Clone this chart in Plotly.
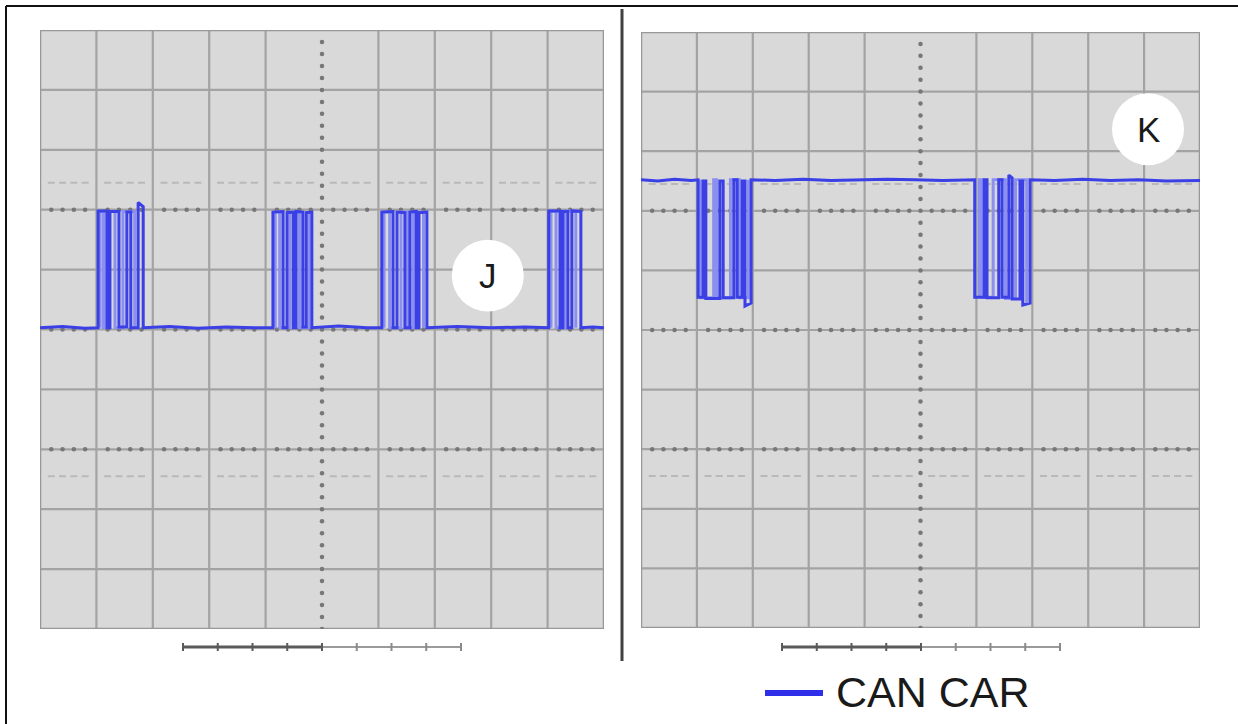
import plotly.graph_objects as go

W, H = 1238, 724

# ---------------- data (oscilloscope divisions) ----------------
# Panel J: CAN trace, time in divisions (0-10), voltage level in divisions (0-10)
j_time = [0.00, 0.40, 0.80, 1.03, 1.03, 1.19, 1.19, 1.24, 1.24, 1.40, 1.40, 1.54, 1.54, 1.61, 1.61,
          1.74, 1.74, 1.83, 1.83, 2.30, 2.80, 3.30, 3.80, 4.13, 4.13, 4.31, 4.31, 4.38, 4.38, 4.49,
          4.49, 4.54, 4.54, 4.66, 4.66, 4.72, 4.72, 4.82, 4.82, 5.30, 5.80, 6.06, 6.06, 6.26, 6.26,
          6.33, 6.33, 6.47, 6.47, 6.56, 6.56, 6.67, 6.67, 6.72, 6.72, 6.86, 6.86, 7.40, 8.00, 8.60,
          9.02, 9.02, 9.22, 9.22, 9.27, 9.27, 9.36, 9.36, 9.43, 9.43, 9.59, 9.59, 9.80, 10.00]
j_level = [5.03, 5.05, 5.02, 5.03, 6.98, 6.98, 5.03, 5.03, 6.97, 6.97, 5.04, 5.04, 6.96, 6.96, 5.03,
           5.03, 7.12, 7.05, 5.03, 5.05, 5.02, 5.04, 5.03, 5.03, 6.96, 6.97, 5.03, 5.03, 6.95, 6.96,
           5.03, 5.03, 6.97, 6.96, 5.04, 5.04, 6.95, 6.96, 5.03, 5.06, 5.03, 5.03, 6.96, 6.97, 5.03,
           5.03, 6.96, 6.95, 5.03, 5.03, 6.96, 6.97, 5.03, 5.03, 6.95, 6.96, 5.03, 5.05, 5.03, 5.04,
           5.03, 6.98, 6.98, 5.03, 5.03, 6.97, 6.97, 5.03, 5.03, 6.98, 6.97, 5.03, 5.04, 5.03]

# persistence (lighter) frames inside the J bursts
j_ghost_time = [1.06, 1.06, 1.12, 1.12, 1.15, 1.15, 1.33, 1.33, 1.47, 1.47, 1.68, 1.68, None,
                4.17, 4.17, 4.25, 4.25, 4.43, 4.43, 4.60, 4.60, 4.77, 4.77, None,
                6.10, 6.10, 6.20, 6.20, 6.40, 6.40, 6.52, 6.52, 6.62, 6.62, 6.80, 6.80, None,
                9.06, 9.06, 9.15, 9.15, 9.31, 9.31, 9.50, 9.50]
j_ghost_level = [5.03, 6.97, 6.97, 5.03, 5.03, 6.97, 6.97, 5.03, 5.03, 6.97, 6.97, 5.03, None,
                 5.03, 6.96, 6.96, 5.03, 5.03, 6.96, 6.96, 5.03, 5.03, 6.96, None,
                 5.03, 6.96, 6.96, 5.03, 5.03, 6.96, 6.96, 5.03, 5.03, 6.96, 6.96, 5.03, None,
                 5.03, 6.98, 6.98, 5.03, 5.03, 6.98, 6.98, 5.03]

# Panel K: CAN trace
k_time = [0.00, 0.30, 0.60, 0.90, 1.02, 1.02, 1.11, 1.11, 1.16, 1.16, 1.41, 1.41, 1.47, 1.47, 1.66,
          1.66, 1.72, 1.72, 1.81, 1.81, 1.86, 1.86, 1.97, 1.97, 2.40, 2.90, 3.40, 3.90, 4.40, 4.90,
          5.40, 5.97, 5.97, 6.14, 6.14, 6.19, 6.19, 6.40, 6.40, 6.46, 6.46, 6.58, 6.58, 6.64, 6.64,
          6.78, 6.78, 6.83, 6.83, 6.96, 6.96, 7.40, 7.90, 8.40, 8.90, 9.40, 10.00]
k_level = [7.52, 7.50, 7.53, 7.51, 7.52, 5.55, 5.55, 7.50, 7.50, 5.53, 5.53, 7.50, 7.50, 5.54, 5.54,
           7.52, 7.52, 5.55, 5.55, 7.50, 7.50, 5.40, 5.45, 7.52, 7.51, 7.53, 7.51, 7.52, 7.53, 7.52,
           7.51, 7.52, 5.55, 5.55, 7.52, 7.52, 5.54, 5.54, 7.52, 7.52, 5.55, 5.55, 7.60, 7.55, 5.52,
           5.52, 7.50, 7.50, 5.42, 5.45, 7.52, 7.51, 7.53, 7.51, 7.52, 7.50, 7.51]

k_ghost_time = [1.06, 1.06, 1.30, 1.30, 1.35, 1.35, 1.60, 1.60, 1.76, 1.76, 1.92, 1.92, None,
                6.05, 6.05, 6.10, 6.10, 6.30, 6.30, 6.52, 6.52, 6.70, 6.70, 6.90, 6.90]
k_ghost_level = [7.52, 5.54, 5.54, 7.52, 7.52, 5.54, 5.54, 7.52, 7.52, 5.54, 5.54, 7.52, None,
                 5.55, 7.52, 7.52, 5.55, 5.55, 7.52, 7.52, 5.53, 5.53, 7.52, 7.52, 5.45]

panel_labels = ["J", "K"]
legend_label = "CAN CAR"

# ---------------- styling ----------------
TRACE = "#3a3fe6"
GHOST = "#8a8ff0"
GRID = "#a3a3a3"
BG = "#d9d9d9"

def px_x(x):
    return x / W

def px_y(y):
    return 1 - y / H

fig = go.Figure()

shapes = []
annotations = []

panels = [
    dict(xa="x", ya="y"),
    dict(xa="x2", ya="y2"),
]

for p in panels:
    xr, yr = p["xa"], p["ya"]
    for i in range(1, 10):
        if i != 5:
            shapes.append(dict(type="line", xref=xr, yref=yr, x0=i, x1=i, y0=0, y1=10,
                               line=dict(color=GRID, width=2.2), layer="below"))
        shapes.append(dict(type="line", xref=xr, yref=yr, x0=0, x1=10, y0=i, y1=i,
                           line=dict(color=GRID, width=2.2), layer="below"))
    shapes.append(dict(type="rect", xref=xr, yref=yr, x0=0, x1=10, y0=0, y1=10,
                       line=dict(color="#989898", width=2.5), layer="below"))

# graticule dots
for xr, yr in (("x", "y"), ("x2", "y2")):
    dx, dy = [], []
    for yl in (3, 5, 7):
        for i in range(10):
            for k in (0.2, 0.4, 0.6, 0.8):
                dx.append(i + k); dy.append(yl)
    vx, vy = [], []
    for i in range(10):
        for k in (0.0, 0.2, 0.4, 0.6, 0.8):
            vx.append(5); vy.append(i + k)
    lx, ly = [], []
    for yl in (7.45, 2.55):
        for i in range(10):
            for k in (0.2, 0.4, 0.6, 0.8):
                lx.append(i + k); ly.append(yl)
    fig.add_trace(go.Scatter(x=lx, y=ly, mode="markers", xaxis=xr, yaxis=yr,
                             marker=dict(symbol="line-ew", size=5, line=dict(color="#b9b9b9", width=2)),
                             showlegend=False, hoverinfo="skip"))
    fig.add_trace(go.Scatter(x=dx + vx, y=dy + vy, mode="markers", xaxis=xr, yaxis=yr,
                             marker=dict(symbol="circle", size=4.5, color="#777777"),
                             showlegend=False, hoverinfo="skip"))

fig.add_trace(go.Scatter(x=j_ghost_time, y=j_ghost_level, mode="lines", xaxis="x", yaxis="y",
                         line=dict(color=GHOST, width=3), showlegend=False, hoverinfo="skip"))
fig.add_trace(go.Scatter(x=j_time, y=j_level, mode="lines", xaxis="x", yaxis="y", name=legend_label,
                         line=dict(color=TRACE, width=3), showlegend=False))
fig.add_trace(go.Scatter(x=k_ghost_time, y=k_ghost_level, mode="lines", xaxis="x2", yaxis="y2",
                         line=dict(color=GHOST, width=3), showlegend=False, hoverinfo="skip"))
fig.add_trace(go.Scatter(x=k_time, y=k_level, mode="lines", xaxis="x2", yaxis="y2", name=legend_label,
                         line=dict(color=TRACE, width=3), showlegend=False))

# label circles
label_pos = [("x", "y", 7.94, 5.9, 56.4, 60.0), ("x2", "y2", 9.07, 8.37, 55.9, 59.6)]
for (xr, yr, cx, cy, sx, sy), lab in zip(label_pos, panel_labels):
    r = 36
    shapes.append(dict(type="circle", xref=xr, yref=yr, x0=cx - r / sx, x1=cx + r / sx,
                       y0=cy - r / sy, y1=cy + r / sy, fillcolor="white", line=dict(width=0),
                       layer="above"))
    annotations.append(dict(xref=xr, yref=yr, x=cx, y=cy, text=lab, showarrow=False,
                            font=dict(family="Liberation Sans, Arial", size=35, color="#1a1a1a")))

# time-base bars under each panel
for c in (322, 921):
    left, right, yb = c - 139, c + 139, 647
    shapes.append(dict(type="line", xref="paper", yref="paper", x0=px_x(left), x1=px_x(c),
                       y0=px_y(yb), y1=px_y(yb), line=dict(color="#5a5a5a", width=3)))
    shapes.append(dict(type="line", xref="paper", yref="paper", x0=px_x(c), x1=px_x(right),
                       y0=px_y(yb), y1=px_y(yb), line=dict(color="#9a9a9a", width=2)))
    for k in range(-4, 5):
        tx = c + k * 34.75
        shapes.append(dict(type="line", xref="paper", yref="paper", x0=px_x(tx), x1=px_x(tx),
                           y0=px_y(yb - 4), y1=px_y(yb + 4),
                           line=dict(color="#5a5a5a" if k <= 0 else "#8a8a8a", width=2)))

# divider
shapes.append(dict(type="line", xref="paper", yref="paper", x0=px_x(622), x1=px_x(622),
                   y0=px_y(9), y1=px_y(661), line=dict(color="#404040", width=3)))
# outer frame (top and left)
shapes.append(dict(type="line", xref="paper", yref="paper", x0=px_x(6), x1=1,
                   y0=px_y(6), y1=px_y(6), line=dict(color="#111111", width=2)))
shapes.append(dict(type="line", xref="paper", yref="paper", x0=px_x(6), x1=px_x(6),
                   y0=px_y(6), y1=0, line=dict(color="#111111", width=2)))

# legend
shapes.append(dict(type="line", xref="paper", yref="paper", x0=px_x(765), x1=px_x(823),
                   y0=px_y(693), y1=px_y(693), line=dict(color="#2f2fea", width=6)))
annotations.append(dict(xref="paper", yref="paper", x=px_x(834), y=px_y(692), xanchor="left",
                        yanchor="middle", text=legend_label, showarrow=False,
                        font=dict(family="Liberation Sans, Arial", size=43, color="#1a1a1a")))

axis_common = dict(range=[0, 10], showgrid=False, zeroline=False, showticklabels=False,
                   ticks="", showline=False, fixedrange=True)

fig.update_layout(
    width=W, height=H,
    margin=dict(l=0, r=0, t=0, b=0),
    paper_bgcolor="white",
    plot_bgcolor=BG,
    showlegend=False,
    xaxis=dict(domain=[px_x(40), px_x(604)], anchor="y", **axis_common),
    yaxis=dict(domain=[px_y(629), px_y(30)], anchor="x", **axis_common),
    xaxis2=dict(domain=[px_x(641), px_x(1200)], anchor="y2", **axis_common),
    yaxis2=dict(domain=[px_y(628), px_y(32)], anchor="x2", **axis_common),
    shapes=shapes,
    annotations=annotations,
)

fig.write_html("out.html")
